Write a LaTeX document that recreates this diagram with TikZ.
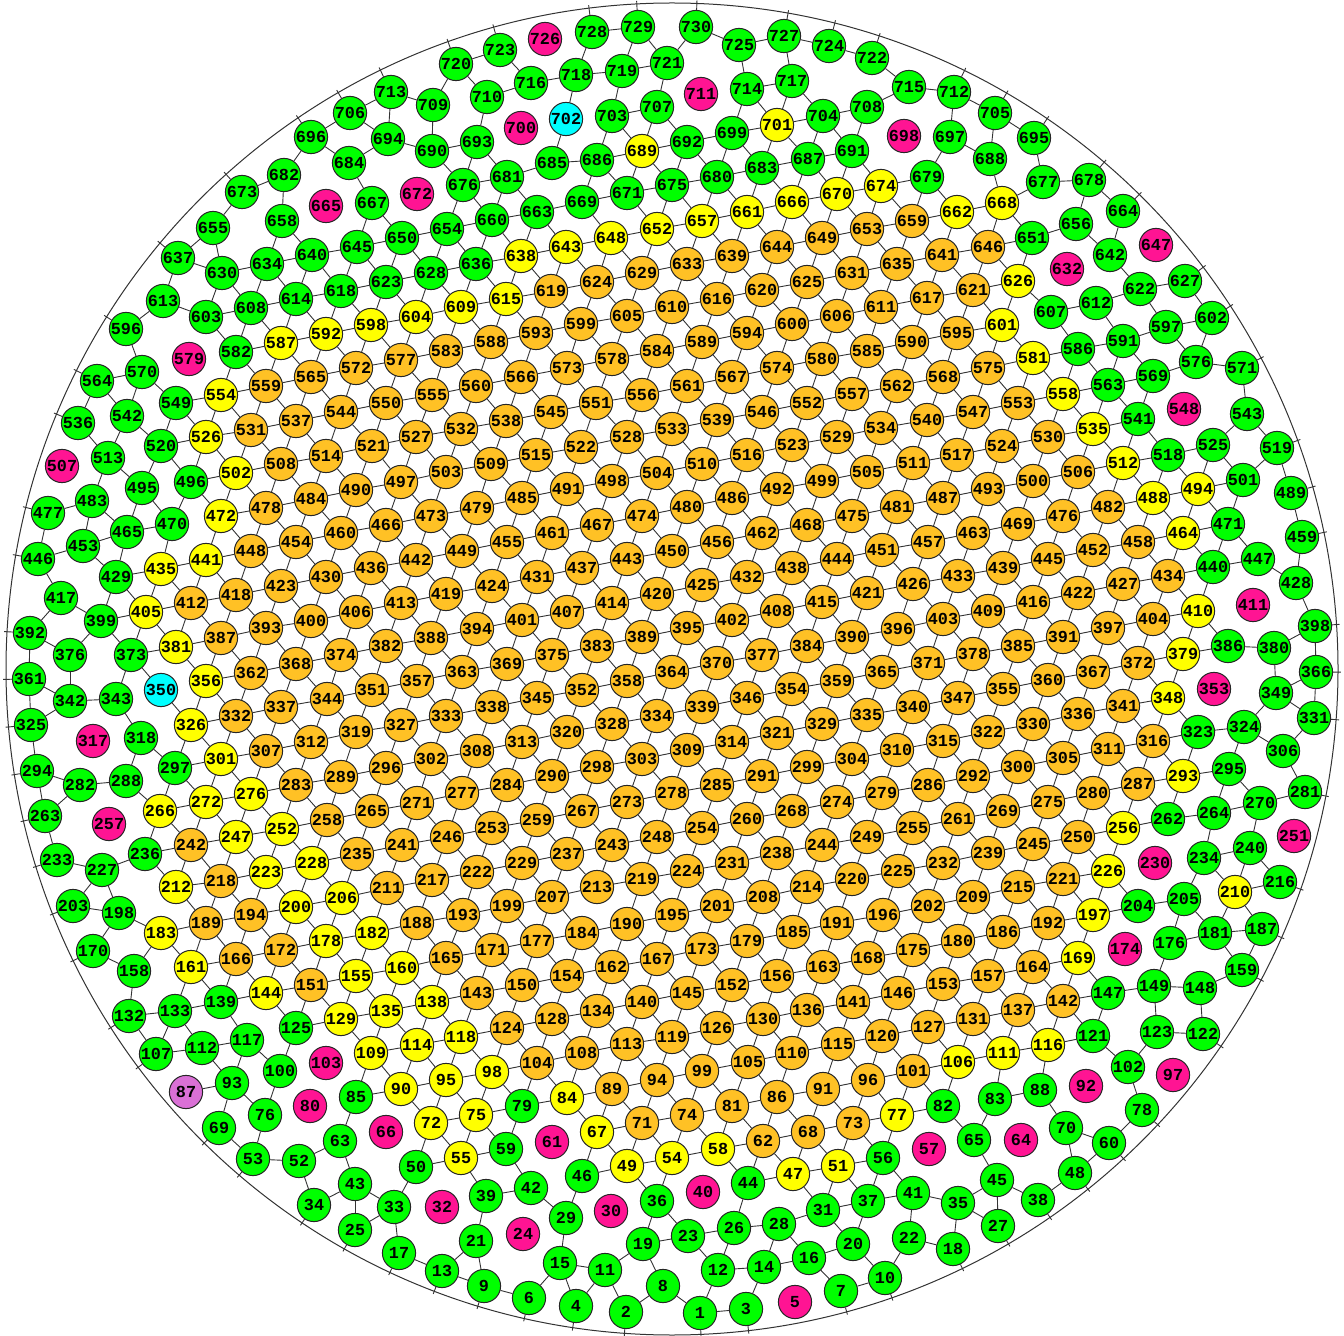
\documentclass[tikz,border=0pt]{standalone}
\usepackage{fontspec}
\setmonofont{Liberation Mono}
\usetikzlibrary{calc}
\definecolor{meshgreen}{RGB}{0,255,0}
\definecolor{meshorange}{RGB}{255,193,37}
\definecolor{meshyellow}{RGB}{255,255,0}
\definecolor{meshpink}{RGB}{255,20,147}
\definecolor{meshcyan}{RGB}{0,255,255}
\definecolor{meshorchid}{RGB}{218,112,214}

\newif\iflinkable
\def\kmag{mag}\def\kcyn{cyn}\def\kpur{pur}
\newcommand\checklink[1]{%
  \edef\meshk{\csname pk#1\endcsname}%
  \linkabletrue
  \ifx\meshk\kmag\linkablefalse\fi
  \ifx\meshk\kcyn\linkablefalse\fi
  \ifx\meshk\kpur\linkablefalse\fi}
\newcommand\gapsq[2]{\numexpr
  (\csname px#1\endcsname-\csname px#2\endcsname)*(\csname px#1\endcsname-\csname px#2\endcsname)+
  (\csname py#1\endcsname-\csname py#2\endcsname)*(\csname py#1\endcsname-\csname py#2\endcsname)\relax}

\begin{document}
\begin{tikzpicture}[x=0.5pt, y=-0.5pt,
    mesh/.style={circle, draw=black!85, line width=0.5pt, minimum size=16.6pt,
                 inner sep=0pt, font=\fontsize{8.4}{9}\selectfont\ttfamily\bfseries},
    grn/.style={mesh, fill=meshgreen},
    org/.style={mesh, fill=meshorange},
    ylw/.style={mesh, fill=meshyellow},
    mag/.style={mesh, fill=meshpink},
    cyn/.style={mesh, fill=meshcyan},
    pur/.style={mesh, fill=meshorchid},
    link/.style={draw=black!80, line width=0.45pt},
    rim/.style={draw=black!80, line width=0.5pt}
  ]
  \useasboundingbox (0,0) rectangle (1344,1336);
  \coordinate (ctr) at (672,669);
  \draw[rim] (ctr) circle[radius=333pt];

  % cells, numbered from the bottom up
  \foreach \x/\y/\n/\kind in {
    700/1313/1/grn, 626/1312/2/grn, 746/1309/3/grn, 576/1306/4/grn, 795/1302/5/mag, 529/1298/6/grn, 841/1291/7/grn, 663/1286/8/grn, 484/1286/9/grn, 885/1278/10/grn,
    605/1270/11/grn, 718/1270/12/grn, 442/1271/13/grn, 764/1267/14/grn, 560/1263/15/grn, 809/1258/16/grn, 399/1253/17/grn, 953/1249/18/grn, 643/1244/19/grn, 853/1244/20/grn,
    476/1241/21/grn, 909/1238/22/grn, 688/1236/23/grn, 523/1234/24/mag, 355/1230/25/grn, 734/1228/26/grn, 998/1226/27/grn, 779/1224/28/grn, 566/1218/29/grn, 611/1211/30/mag,
    823/1210/31/grn, 442/1207/32/mag, 394/1207/33/grn, 314/1205/34/grn, 958/1203/35/grn, 657/1201/36/grn, 868/1201/37/grn, 1038/1200/38/grn, 486/1196/39/grn, 703/1192/40/mag,
    913/1193/41/grn, 531/1188/42/grn, 355/1184/43/grn, 748/1183/44/grn, 997/1180/45/grn, 582/1176/46/grn, 793/1174/47/ylw, 1075/1173/48/grn, 627/1166/49/ylw, 416/1167/50/grn,
    838/1166/51/ylw, 299/1161/52/grn, 253/1159/53/grn, 672/1158/54/ylw, 461/1158/55/ylw, 883/1158/56/grn, 929/1149/57/mag, 718/1149/58/ylw, 506/1149/59/grn, 1109/1143/60/grn,
    552/1142/61/mag, 763/1141/62/org, 340/1141/63/grn, 1021/1140/64/mag, 974/1140/65/grn, 386/1132/66/mag, 597/1132/67/ylw, 808/1132/68/org, 219/1128/69/grn, 1066/1128/70/grn,
    642/1123/71/org, 431/1123/72/ylw, 853/1123/73/org, 687/1115/74/org, 476/1115/75/ylw, 265/1115/76/grn, 897/1115/77/ylw, 1142/1110/78/grn, 522/1106/79/grn, 310/1106/80/mag,
    732/1106/81/org, 943/1106/82/grn, 995/1099/83/grn, 567/1098/84/ylw, 356/1097/85/grn, 777/1097/86/org, 186/1092/87/pur, 1040/1090/88/grn, 612/1089/89/org, 401/1089/90/ylw,
    823/1089/91/org, 1086/1086/92/mag, 232/1083/93/grn, 657/1080/94/org, 446/1080/95/ylw, 868/1080/96/org, 1173/1075/97/mag, 492/1072/98/ylw, 702/1071/99/org, 280/1071/100/grn,
    913/1071/101/org, 1128/1067/102/grn, 326/1063/103/mag, 537/1063/104/org, 748/1062/105/org, 958/1062/106/ylw, 156/1054/107/grn, 582/1053/108/org, 371/1053/109/ylw, 792/1053/110/org,
    1003/1053/111/ylw, 202/1048/112/grn, 627/1044/113/org, 417/1045/114/ylw, 838/1044/115/org, 1048/1045/116/ylw, 247/1040/117/grn, 461/1037/118/ylw, 672/1037/119/org, 882/1036/120/org,
    1093/1036/121/grn, 1203/1034/122/grn, 1157/1032/123/grn, 507/1028/124/org, 296/1028/125/grn, 717/1028/126/org, 928/1027/127/org, 552/1019/128/org, 341/1019/129/ylw, 763/1019/130/org,
    973/1019/131/org, 129/1016/132/grn, 175/1011/133/grn, 597/1011/134/org, 386/1011/135/ylw, 807/1010/136/org, 1018/1010/137/org, 432/1002/138/ylw, 221/1002/139/grn, 642/1002/140/org,
    853/1002/141/org, 1063/1001/142/org, 477/993/143/org, 266/993/144/ylw, 687/993/145/org, 898/993/146/org, 1108/993/147/grn, 1200/988/148/grn, 1154/986/149/grn, 522/985/150/org,
    311/985/151/org, 732/985/152/org, 943/984/153/org, 567/976/154/org, 356/976/155/ylw, 777/976/156/org, 988/976/157/org, 134/971/158/grn, 1242/970/159/grn, 402/968/160/ylw,
    191/967/161/ylw, 612/967/162/org, 823/967/163/org, 1033/967/164/org, 446/958/165/org, 236/959/166/org, 657/959/167/org, 868/958/168/org, 1078/958/169/ylw, 93/951/170/grn,
    492/950/171/org, 281/950/172/org, 702/949/173/org, 1125/949/174/mag, 913/950/175/org, 1170/943/176/grn, 537/941/177/org, 326/941/178/ylw, 747/941/179/org, 958/941/180/org,
    1215/933/181/grn, 372/933/182/ylw, 161/933/183/ylw, 582/933/184/org, 793/932/185/org, 1003/932/186/org, 1262/929/187/grn, 417/923/188/org, 206/923/189/org, 627/924/190/org,
    837/923/191/org, 1048/923/192/org, 463/915/193/org, 251/915/194/org, 672/915/195/org, 883/915/196/org, 1093/915/197/ylw, 119/913/198/grn, 507/906/199/org, 296/907/200/ylw,
    717/906/201/org, 928/906/202/org, 73/906/203/grn, 1138/906/204/grn, 1184/899/205/grn, 342/898/206/ylw, 552/897/207/org, 763/897/208/org, 973/897/209/org, 1235/892/210/ylw,
    387/888/211/org, 176/887/212/ylw, 597/887/213/org, 807/887/214/org, 1018/887/215/org, 1280/882/216/grn, 432/880/217/org, 221/881/218/org, 642/879/219/org, 852/879/220/org,
    1063/879/221/org, 477/872/222/org, 266/872/223/ylw, 687/871/224/org, 898/871/225/org, 1108/871/226/ylw, 102/870/227/grn, 312/863/228/ylw, 522/863/229/org, 1155/863/230/mag,
    732/863/231/org, 943/863/232/org, 57/860/233/grn, 1204/858/234/grn, 357/854/235/org, 145/854/236/grn, 567/854/237/org, 777/853/238/org, 988/853/239/org, 1250/848/240/grn,
    402/845/241/org, 191/845/242/org, 612/845/243/org, 822/845/244/org, 1033/844/245/org, 447/837/246/org, 236/837/247/ylw, 657/837/248/org, 867/837/249/org, 1078/837/250/org,
    1294/836/251/mag, 282/829/252/ylw, 492/828/253/org, 702/828/254/org, 913/828/255/org, 1123/828/256/ylw, 109/824/257/mag, 327/820/258/org, 537/820/259/org, 747/819/260/org,
    958/819/261/org, 1168/819/262/grn, 45/816/263/grn, 1214/813/264/grn, 372/811/265/org, 160/811/266/ylw, 582/811/267/org, 792/811/268/org, 1003/811/269/org, 1260/803/270/grn,
    417/803/271/org, 206/802/272/ylw, 627/802/273/org, 837/802/274/org, 1048/802/275/org, 251/794/276/ylw, 462/793/277/org, 672/793/278/org, 882/793/279/org, 1093/793/280/org,
    1305/792/281/grn, 80/785/282/grn, 296/785/283/org, 507/785/284/org, 717/785/285/org, 928/785/286/org, 1138/784/287/org, 126/781/288/grn, 341/777/289/org, 552/776/290/org,
    762/776/291/org, 973/776/292/org, 1183/776/293/ylw, 37/771/294/grn, 1229/769/295/grn, 386/768/296/org, 175/768/297/grn, 597/767/298/org, 807/767/299/org, 1018/767/300/org,
    221/759/301/ylw, 431/759/302/org, 642/759/303/org, 852/759/304/org, 1063/758/305/org, 1283/751/306/grn, 266/751/307/org, 477/751/308/org, 687/750/309/org, 897/750/310/org,
    1108/749/311/org, 311/742/312/org, 522/742/313/org, 732/742/314/org, 943/741/315/org, 1153/741/316/org, 93/741/317/mag, 141/738/318/grn, 356/732/319/org, 567/732/320/org,
    777/733/321/org, 988/732/322/org, 1198/732/323/grn, 1244/727/324/grn, 31/725/325/grn, 191/725/326/ylw, 401/725/327/org, 612/724/328/org, 822/724/329/org, 1033/724/330/org,
    1314/718/331/grn, 236/716/332/org, 446/716/333/org, 657/716/334/org, 867/715/335/org, 1078/714/336/org, 281/707/337/org, 492/707/338/org, 702/707/339/org, 913/707/340/org,
    1123/706/341/org, 70/701/342/grn, 116/699/343/grn, 327/699/344/org, 537/698/345/org, 747/698/346/org, 958/698/347/org, 1168/698/348/ylw, 1276/693/349/grn, 161/690/350/cyn,
    372/690/351/org, 582/690/352/org, 1214/689/353/mag, 792/689/354/org, 1003/689/355/org, 206/681/356/ylw, 417/681/357/org, 627/681/358/org, 837/681/359/org, 1048/680/360/org,
    29/679/361/grn, 251/673/362/org, 462/672/363/org, 672/672/364/org, 882/672/365/org, 1316/672/366/grn, 1093/672/367/org, 296/664/368/org, 507/664/369/org, 717/663/370/org,
    928/663/371/org, 1138/663/372/org, 131/655/373/grn, 341/655/374/org, 552/655/375/org, 70/655/376/grn, 762/655/377/org, 973/654/378/org, 1183/654/379/ylw, 1274/648/380/grn,
    176/647/381/ylw, 386/646/382/org, 597/646/383/org, 807/646/384/org, 1018/646/385/org, 1228/646/386/grn, 221/638/387/org, 431/638/388/org, 642/637/389/org, 852/637/390/org,
    1063/637/391/org, 30/633/392/grn, 266/628/393/org, 477/629/394/org, 687/628/395/org, 898/629/396/org, 1108/628/397/org, 1315/626/398/grn, 101/621/399/grn, 311/621/400/org,
    522/620/401/org, 732/620/402/org, 943/619/403/org, 1153/619/404/org, 146/612/405/ylw, 356/612/406/org, 567/612/407/org, 777/611/408/org, 988/611/409/org, 1198/611/410/ylw,
    1253/605/411/mag, 191/603/412/org, 401/603/413/org, 612/603/414/org, 822/602/415/org, 1033/602/416/org, 61/598/417/grn, 236/595/418/org, 446/594/419/org, 657/594/420/org,
    867/593/421/org, 1078/593/422/org, 281/586/423/org, 492/586/424/org, 702/585/425/org, 913/584/426/org, 1123/584/427/org, 1296/583/428/grn, 116/577/429/grn, 326/577/430/org,
    537/577/431/org, 747/577/432/org, 958/576/433/org, 1168/576/434/org, 161/569/435/ylw, 371/568/436/org, 582/568/437/org, 792/568/438/org, 1003/568/439/org, 1213/567/440/grn,
    206/560/441/ylw, 416/560/442/org, 627/559/443/org, 837/559/444/org, 1048/559/445/org, 38/559/446/grn, 1258/559/447/grn, 251/551/448/org, 462/551/449/org, 672/551/450/org,
    882/550/451/org, 1093/550/452/org, 83/546/453/grn, 296/542/454/org, 507/542/455/org, 717/542/456/org, 928/542/457/org, 1138/542/458/org, 1302/537/459/grn, 341/533/460/org,
    552/533/461/org, 762/533/462/org, 973/533/463/org, 1183/533/464/ylw, 127/532/465/grn, 386/525/466/org, 597/525/467/org, 807/525/468/org, 1018/524/469/org, 172/524/470/grn,
    1228/524/471/grn, 221/516/472/ylw, 431/516/473/org, 642/516/474/org, 852/516/475/org, 1063/516/476/org, 48/513/477/grn, 266/508/478/org, 477/508/479/org, 687/507/480/org,
    897/507/481/org, 1108/507/482/org, 92/501/483/grn, 311/499/484/org, 522/498/485/org, 732/498/486/org, 943/498/487/org, 1153/498/488/ylw, 1291/493/489/grn, 356/490/490/org,
    567/489/491/org, 777/489/492/org, 988/489/493/org, 1198/489/494/ylw, 142/488/495/grn, 191/482/496/grn, 401/482/497/org, 612/481/498/org, 822/481/499/org, 1033/481/500/org,
    1243/480/501/grn, 236/473/502/ylw, 446/472/503/org, 657/473/504/org, 867/472/505/org, 1078/472/506/org, 62/466/507/mag, 281/464/508/org, 491/464/509/org, 702/464/510/org,
    913/463/511/org, 1123/463/512/ylw, 108/458/513/grn, 326/456/514/org, 536/455/515/org, 747/455/516/org, 957/455/517/org, 1168/455/518/grn, 1277/448/519/grn, 161/446/520/grn,
    372/446/521/org, 581/447/522/org, 792/445/523/org, 1002/446/524/org, 1213/445/525/grn, 206/437/526/ylw, 416/437/527/org, 627/437/528/org, 837/437/529/org, 1048/437/530/org,
    251/430/531/org, 461/429/532/org, 672/429/533/org, 881/428/534/org, 1093/429/535/ylw, 78/423/536/grn, 296/421/537/org, 506/421/538/org, 717/420/539/org, 927/420/540/org,
    1138/419/541/grn, 127/416/542/grn, 1247/414/543/grn, 341/412/544/org, 551/412/545/org, 762/412/546/org, 973/412/547/org, 1184/409/548/mag, 176/403/549/grn, 386/403/550/org,
    596/403/551/org, 807/403/552/org, 1018/403/553/org, 221/395/554/ylw, 432/395/555/org, 642/395/556/org, 852/394/557/org, 1063/394/558/ylw, 266/386/559/org, 476/386/560/org,
    687/386/561/org, 897/386/562/org, 1108/385/563/grn, 97/381/564/grn, 311/377/565/org, 521/377/566/org, 732/377/567/org, 943/377/568/org, 1153/376/569/grn, 142/372/570/grn,
    1242/368/571/grn, 356/368/572/org, 567/368/573/org, 777/368/574/org, 988/368/575/org, 1196/362/576/grn, 401/360/577/org, 612/359/578/org, 189/359/579/mag, 822/359/580/org,
    1033/358/581/ylw, 236/352/582/grn, 446/351/583/org, 657/351/584/org, 867/351/585/org, 1078/349/586/grn, 281/343/587/ylw, 491/342/588/org, 702/342/589/org, 912/342/590/org,
    1123/341/591/grn, 326/334/592/ylw, 536/333/593/org, 747/333/594/org, 957/333/595/org, 126/329/596/grn, 1166/327/597/grn, 371/325/598/ylw, 581/324/599/org, 792/324/600/org,
    1002/325/601/ylw, 1212/318/602/grn, 206/317/603/grn, 416/317/604/ylw, 627/316/605/org, 837/316/606/org, 1051/312/607/grn, 251/308/608/grn, 461/307/609/ylw, 672/307/610/org,
    881/307/611/org, 1096/303/612/grn, 163/301/613/grn, 296/299/614/grn, 506/299/615/ylw, 717/299/616/org, 927/298/617/org, 341/291/618/grn, 551/291/619/org, 762/290/620/org,
    973/290/621/org, 1140/289/622/grn, 386/282/623/grn, 597/282/624/org, 807/282/625/org, 1018/281/626/ylw, 1185/281/627/grn, 431/273/628/grn, 642/273/629/org, 222/273/630/grn,
    852/273/631/org, 1067/269/632/mag, 687/264/633/org, 267/264/634/grn, 897/264/635/org, 476/264/636/grn, 178/258/637/grn, 521/256/638/ylw, 732/256/639/org, 312/255/640/grn,
    942/255/641/org, 1110/255/642/grn, 566/247/643/ylw, 777/247/644/org, 357/247/645/grn, 988/247/646/org, 1156/245/647/mag, 611/238/648/ylw, 822/238/649/org, 402/238/650/grn,
    1032/238/651/grn, 657/229/652/ylw, 867/229/653/org, 447/229/654/grn, 213/228/655/grn, 1076/224/656/grn, 702/221/657/ylw, 282/221/658/grn, 912/221/659/org, 492/220/660/grn,
    747/212/661/ylw, 957/212/662/ylw, 537/212/663/grn, 1123/211/664/grn, 326/206/665/mag, 792/202/666/ylw, 372/203/667/grn, 1002/203/668/ylw, 582/202/669/grn, 837/194/670/ylw,
    627/193/671/grn, 417/194/672/mag, 242/192/673/grn, 881/186/674/ylw, 672/185/675/grn, 463/185/676/grn, 1043/182/677/grn, 1089/180/678/grn, 927/177/679/grn, 717/177/680/grn,
    507/177/681/grn, 284/175/682/grn, 762/168/683/grn, 349/163/684/grn, 552/163/685/grn, 597/160/686/grn, 808/159/687/grn, 990/159/688/grn, 642/151/689/ylw, 432/151/690/grn,
    852/151/691/grn, 687/142/692/grn, 477/142/693/grn, 388/139/694/grn, 1034/138/695/grn, 311/137/696/grn, 950/137/697/grn, 904/136/698/mag, 732/133/699/grn, 521/128/700/mag,
    777/125/701/ylw, 566/119/702/cyn, 612/116/703/grn, 823/116/704/grn, 995/113/705/grn, 350/113/706/grn, 657/107/707/grn, 867/107/708/grn, 433/105/709/grn, 487/97/710/grn,
    701/94/711/mag, 954/92/712/grn, 391/92/713/grn, 747/89/714/grn, 909/87/715/grn, 531/83/716/grn, 792/81/717/grn, 576/75/718/grn, 622/71/719/grn, 456/64/720/grn,
    667/63/721/grn, 872/58/722/grn, 500/50/723/grn, 829/46/724/grn, 739/45/725/grn, 545/39/726/mag, 784/36/727/grn, 592/32/728/grn, 638/27/729/grn, 696/27/730/grn} {
    \node[\kind] (n\n) at (\x,\y) {\n};
    \expandafter\xdef\csname px\n\endcsname{\x}
    \expandafter\xdef\csname py\n\endcsname{\y}
    \expandafter\xdef\csname pk\n\endcsname{\kind}
  }

  % links between neighbouring cells
  \foreach \i in {1,...,729} {
    \checklink{\i}
    \iflinkable
      \pgfmathtruncatemacro\jlo{\i+1}
      \pgfmathtruncatemacro\jhi{min(\i+40,730)}
      \foreach \j in {\jlo,...,\jhi} {
        \checklink{\j}
        \iflinkable
          \ifnum\gapsq{\i}{\j}<2255
            \draw[link] (n\i) -- (n\j);
          \fi
        \fi
      }
    \fi
  }

  % odd cells keep only these links
  \foreach \a/\b in {350/373, 350/326, 702/718, 702/685, 87/93}
    \draw[link] (n\a) -- (n\b);

  % ties to the rim
  \foreach \n in {1,2,3,4,6,7,9,10,13,17,18,25,27,34,38,48,53,60,69,78,107,122,132,159,170,187,
                  203,216,233,263,281,294,325,331,361,366,392,398,446,459,477,489,519,536,564,571,
                  596,602,627,637,664,673,678,695,696,705,706,712,713,720,722,723,724,727,728,729,730} {
    \coordinate (s\n) at ($(ctr)!334.5pt!(n\n)$);
    \draw[link] (n\n) -- (s\n);
  }
\end{tikzpicture}
\end{document}
